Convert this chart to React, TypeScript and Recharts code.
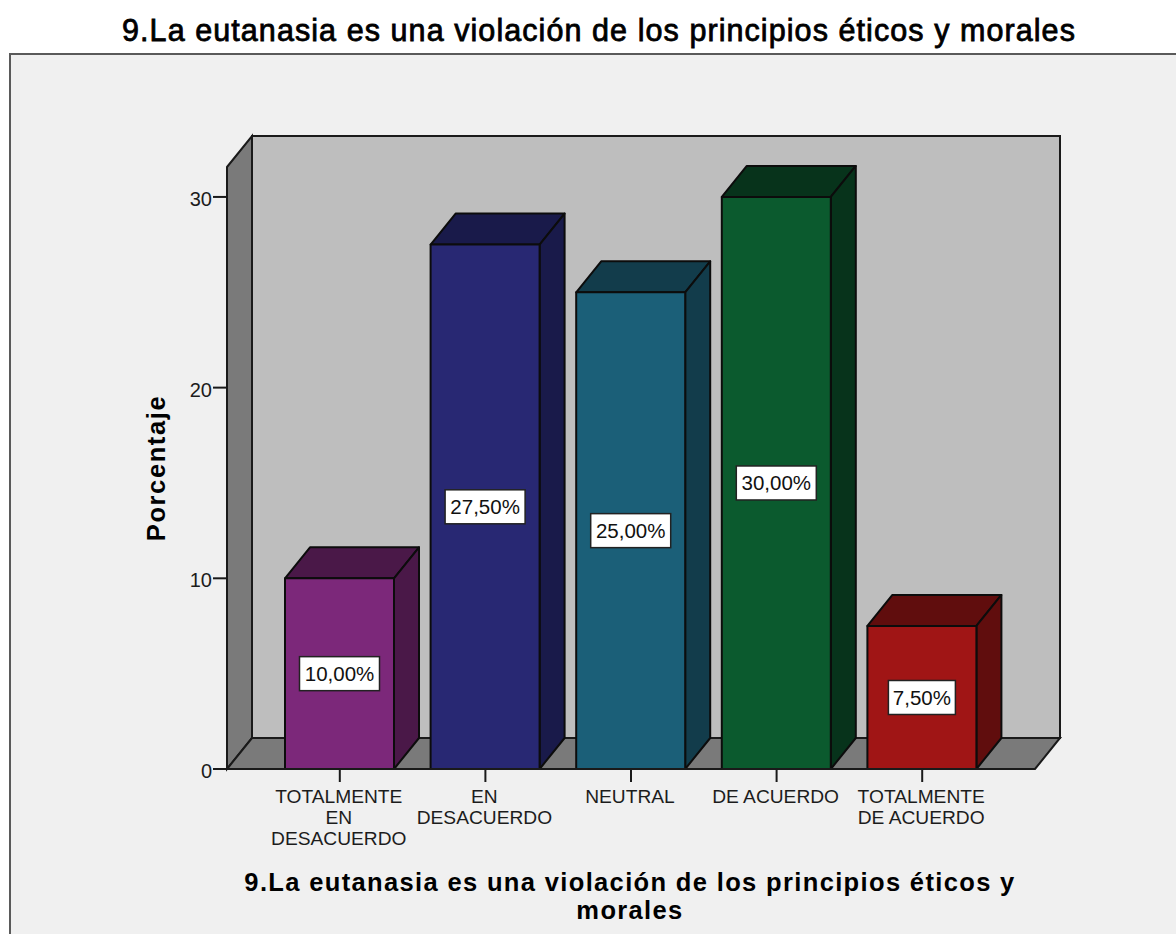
import { Bar, BarChart, Cell, LabelList, XAxis, YAxis } from 'recharts';

const categories = [
  ['TOTALMENTE', 'EN', 'DESACUERDO'],
  ['EN', 'DESACUERDO'],
  ['NEUTRAL'],
  ['DE ACUERDO'],
  ['TOTALMENTE', 'DE ACUERDO'],
];
const percentages = [10, 27.5, 25, 30, 7.5];
const yTicks = [0, 10, 20, 30];
const frontColors = ['#7c287a', '#282873', '#1b5f78', '#0b5a2e', '#a01515'];
const sideColors = ['#4a1848', '#191a4a', '#123c4b', '#07331b', '#600d0d'];

const TITLE = '9.La eutanasia es una violación de los principios éticos y morales';
const X_TITLE = ['9.La eutanasia es una violación de los principios éticos y', 'morales'];

const data = categories.map((lines, i) => ({ name: lines.join(' '), lines, value: percentages[i] }));

const WIDTH = 1176;
const HEIGHT = 934;
const Y_AXIS_WIDTH = 100;
const X_AXIS_HEIGHT = 30;
const margin = { top: 167, right: 141, bottom: 165 - X_AXIS_HEIGHT, left: 227 - Y_AXIS_WIDTH };
const DX = 25;
const DY = 31;
const INK = '#1a1a1a';
const FONT = '"Liberation Sans", Arial, sans-serif';

// back wall, left wall, floor and the page frame
function Backdrop() {
  const left = margin.left + Y_AXIS_WIDTH;
  const right = WIDTH - margin.right;
  const top = margin.top;
  const bottom = HEIGHT - margin.bottom - X_AXIS_HEIGHT;
  return (
    <g>
      <rect x={10} y={54} width={WIDTH} height={HEIGHT} fill="#f0f0f0" stroke="#5a5a5a" strokeWidth={2} />
      <rect x={left + DX} y={top - DY} width={right - left} height={bottom - top} fill="#bebebe" stroke={INK} strokeWidth={2} />
      <path
        d={`M${left},${top}L${left + DX},${top - DY}V${bottom - DY}L${left},${bottom}Z`}
        fill="#7a7a7a"
        stroke={INK}
        strokeWidth={2}
      />
      <path
        d={`M${left},${bottom}L${left + DX},${bottom - DY}H${right + DX}L${right},${bottom}Z`}
        fill="#7a7a7a"
        stroke={INK}
        strokeWidth={2}
      />
    </g>
  );
}

function Bar3D(props: any) {
  const { x, y, width, height, index } = props;
  const r = x + width;
  const b = y + height;
  return (
    <g stroke="#0c0c0c" strokeWidth={2} strokeLinejoin="round">
      <path d={`M${x},${y}L${x + DX},${y - DY}H${r + DX}L${r},${y}Z`} fill={sideColors[index]} />
      <path d={`M${r},${y}L${r + DX},${y - DY}V${b - DY}L${r},${b}Z`} fill={sideColors[index]} />
      <rect x={x} y={y} width={width} height={height} fill={frontColors[index]} />
    </g>
  );
}

function ValueLabel(props: any) {
  const { x, y, width, height, value } = props;
  const cx = x + width / 2;
  const cy = y + height / 2;
  const text = `${value.toFixed(2).replace('.', ',')}%`;
  const boxW = value < 10 ? 67 : 80;
  return (
    <g>
      <rect x={cx - boxW / 2} y={cy - 17} width={boxW} height={34} fill="#ffffff" stroke="#222222" strokeWidth={1.5} />
      <text x={cx} y={cy + 7.5} textAnchor="middle" fontFamily={FONT} fontSize={20.5} fill="#111111">
        {text}
      </text>
    </g>
  );
}

function CategoryTick(props: any) {
  const { x, y, index } = props;
  return (
    <text textAnchor="middle" fontFamily={FONT} fontSize={19.2} fill="#1c1c1c">
      {categories[index].map((line, i) => (
        <tspan key={line} x={x - 1} y={y + 19 + i * 21}>
          {line}
        </tspan>
      ))}
    </text>
  );
}

export default function App() {
  return (
    <div style={{ position: 'absolute', left: 0, top: 0, width: WIDTH, height: HEIGHT, background: '#ffffff' }}>
      <BarChart width={WIDTH} height={HEIGHT} data={data} margin={margin}>
        <Backdrop />
        <XAxis
          dataKey="name"
          interval={0}
          height={X_AXIS_HEIGHT}
          padding={{ left: 40, right: 40 }}
          tick={<CategoryTick />}
          tickSize={13}
          tickLine={{ stroke: INK, strokeWidth: 2 }}
          axisLine={{ stroke: INK, strokeWidth: 2 }}
        />
        <YAxis
          type="number"
          domain={[0, 31.57]}
          ticks={yTicks}
          width={Y_AXIS_WIDTH}
          tickSize={14}
          tickMargin={1}
          tick={{ fontFamily: FONT, fontSize: 20, fill: '#1c1c1c', dy: 2 }}
          tickLine={{ stroke: INK, strokeWidth: 2 }}
          axisLine={{ stroke: INK, strokeWidth: 2 }}
          label={{
            value: 'Porcentaje',
            angle: -90,
            position: 'insideLeft',
            offset: 0,
            dx: 29,
            style: { fontFamily: FONT, fontSize: 25.5, fontWeight: 700, letterSpacing: 1.6, fill: '#000000', textAnchor: 'middle' },
          }}
        />
        <Bar dataKey="value" barSize={109} shape={<Bar3D />} isAnimationActive={false}>
          {data.map((d, i) => (
            <Cell key={d.name} fill={frontColors[i]} />
          ))}
          <LabelList dataKey="value" content={<ValueLabel />} />
        </Bar>
        <text x={599} y={41} textAnchor="middle" fontFamily={FONT} fontSize={30.5} fill="#000000" stroke="#000000" strokeWidth={0.8} letterSpacing={1.07}>
          {TITLE}
        </text>
        <text textAnchor="middle" fontFamily={FONT} fontSize={25.5} fontWeight={700} fill="#000000" letterSpacing={1.35}>
          <tspan x={630} y={891}>{X_TITLE[0]}</tspan>
          <tspan x={630} y={919}>{X_TITLE[1]}</tspan>
        </text>
      </BarChart>
    </div>
  );
}
